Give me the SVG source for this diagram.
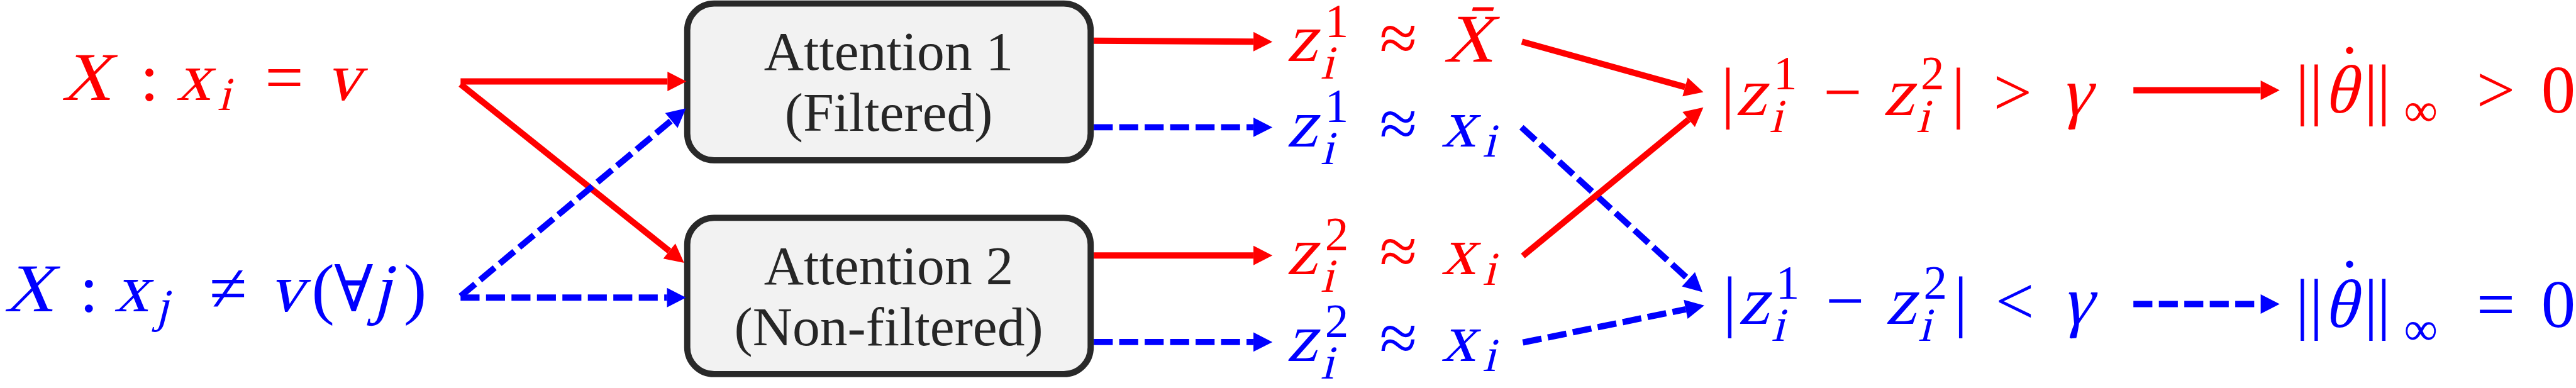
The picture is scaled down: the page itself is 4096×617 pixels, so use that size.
<svg xmlns="http://www.w3.org/2000/svg" width="4096" height="617" viewBox="0 0 4096 617">
<style>
.m{font-family:'Liberation Serif',serif;font-size:148px;text-anchor:middle}
.s{font-size:102px}
.dv{font-family:'DejaVu Serif',serif;font-size:140px}
.r{fill:#ff0000}
.b{fill:#0000ff}
.box{fill:#f2f2f2;stroke:#292929;stroke-width:13.4}
.bt{font-family:'Liberation Serif',serif;font-size:119px;fill:#262626;text-anchor:middle}
.cr{stroke:#ff0000;stroke-width:13.5;fill:none;marker-end:url(#ahR)}
.cb{stroke:#0000ff;stroke-width:13.5;fill:none;stroke-dasharray:41 14;marker-end:url(#ahB)}
</style>
<defs>
<marker id="ahR" markerUnits="userSpaceOnUse" markerWidth="42" markerHeight="42" refX="0" refY="21" orient="auto" overflow="visible"><path d="M0,0 L41,21 L0,42 z" fill="#ff0000"/></marker>
<marker id="ahB" markerUnits="userSpaceOnUse" markerWidth="42" markerHeight="42" refX="0" refY="21" orient="auto" overflow="visible"><path d="M0,0 L41,21 L0,42 z" fill="#0000ff"/></marker>
</defs>
<rect width="4096" height="617" fill="#ffffff"/>
<g transform="scale(0.736)">
<g id="input-red">
<text class="m r" transform="translate(186,216) skewX(-14)">X</text>
<text class="m r"><tspan x="323" y="216">:</tspan><tspan x="614" y="216">=</tspan></text>
<text class="m r" transform="translate(418,216) skewX(-14)">x</text>
<text class="m r s" transform="translate(484,238) skewX(-14)">i</text>
<text class="m r" transform="translate(741,216) skewX(-14)">v</text>
</g>
<g id="input-blue">
<text class="m b" transform="translate(62,673) skewX(-14)">X</text>
<text class="m b"><tspan x="192" y="673">:</tspan><tspan x="493" y="673">≠</tspan><tspan x="698" y="673">(</tspan><tspan class="dv" x="764" y="673">∀</tspan><tspan x="897" y="673">)</tspan></text>
<text class="m b" transform="translate(284,673) skewX(-14)">x</text>
<text class="m b s" transform="translate(350,695) skewX(-14)">j</text>
<text class="m b" transform="translate(618,673) skewX(-14)">v</text>
<text class="m b" transform="translate(825,673) skewX(-14)">j</text>
</g>
<g id="attention1">
<rect class="box" x="1484.7" y="7.7" width="871.6" height="338.6" rx="58" ry="58"/>
<text class="bt" x="1920" y="151">Attention 1</text>
<text class="bt" x="1920" y="283">(Filtered)</text>
</g>
<g id="attention2">
<rect class="box" x="1484.7" y="470.7" width="871.6" height="337.6" rx="58" ry="58"/>
<text class="bt" x="1920" y="614">Attention 2</text>
<text class="bt" x="1920" y="746">(Non-filtered)</text>
</g>
<g id="z1-red">
<text class="m r" transform="translate(2812,132) skewX(-14)">z</text>
<text class="m r"><tspan class="s" x="2888" y="80">1</tspan><tspan x="3021" y="132">≈</tspan></text>
<text class="m r s" transform="translate(2867,170) skewX(-14)">i</text>
<text class="m r" transform="translate(3172,133) skewX(-14)">X̄</text>
</g>
<g id="z1-blue">
<text class="m b" transform="translate(2812,316) skewX(-14)">z</text>
<text class="m b"><tspan class="s" x="2888" y="264">1</tspan><tspan x="3021" y="316">≈</tspan></text>
<text class="m b s" transform="translate(2867,354) skewX(-14)">i</text>
<text class="m b" transform="translate(3151,316) skewX(-14)">x</text>
<text class="m b s" transform="translate(3217,338) skewX(-14)">i</text>
</g>
<g id="z2-red">
<text class="m r" transform="translate(2812,593) skewX(-14)">z</text>
<text class="m r"><tspan class="s" x="2888" y="541">2</tspan><tspan x="3021" y="593">≈</tspan></text>
<text class="m r s" transform="translate(2867,631) skewX(-14)">i</text>
<text class="m r" transform="translate(3151,593) skewX(-14)">x</text>
<text class="m r s" transform="translate(3217,615) skewX(-14)">i</text>
</g>
<g id="z2-blue">
<text class="m b" transform="translate(2812,780) skewX(-14)">z</text>
<text class="m b"><tspan class="s" x="2888" y="728">2</tspan><tspan x="3021" y="780">≈</tspan></text>
<text class="m b s" transform="translate(2867,818) skewX(-14)">i</text>
<text class="m b" transform="translate(3151,780) skewX(-14)">x</text>
<text class="m b s" transform="translate(3217,802) skewX(-14)">i</text>
</g>
<g id="diff-gt">
<text class="m r"><tspan x="3733" y="248">|</tspan><tspan class="s" x="3857" y="193">1</tspan><tspan x="3981" y="248">−</tspan><tspan class="s" x="4175" y="193">2</tspan><tspan x="4231" y="248">|</tspan><tspan x="4348" y="248">&gt;</tspan></text>
<text class="m r" transform="translate(3782,248) skewX(-14)">z</text>
<text class="m r s" transform="translate(3837,285) skewX(-14)">i</text>
<text class="m r" transform="translate(4101,248) skewX(-14)">z</text>
<text class="m r s" transform="translate(4154,285) skewX(-14)">i</text>
<text class="m r" transform="translate(4483,248) skewX(-14)">γ</text>
</g>
<g id="diff-lt">
<text class="m b"><tspan x="3737" y="700">|</tspan><tspan class="s" x="3862" y="645">1</tspan><tspan x="3986" y="700">−</tspan><tspan class="s" x="4181" y="645">2</tspan><tspan x="4236" y="700">|</tspan><tspan x="4353" y="700">&lt;</tspan></text>
<text class="m b" transform="translate(3788,700) skewX(-14)">z</text>
<text class="m b s" transform="translate(3841,737) skewX(-14)">i</text>
<text class="m b" transform="translate(4106,700) skewX(-14)">z</text>
<text class="m b s" transform="translate(4158,737) skewX(-14)">i</text>
<text class="m b" transform="translate(4486,700) skewX(-14)">γ</text>
</g>
<g id="theta-gt">
<text class="m r"><tspan x="4974" y="242">|</tspan><tspan x="5004" y="242">|</tspan><tspan x="5076" y="198">˙</tspan><tspan x="5122" y="242">|</tspan><tspan x="5150" y="242">|</tspan><tspan class="s" x="5230" y="272">∞</tspan><tspan x="5392" y="243">&gt;</tspan><tspan x="5527" y="243">0</tspan></text>
<text class="m r" transform="translate(5055,243) skewX(-14)">θ</text>
</g>
<g id="theta-eq">
<text class="m b"><tspan x="4974" y="705">|</tspan><tspan x="5004" y="705">|</tspan><tspan x="5076" y="661">˙</tspan><tspan x="5122" y="705">|</tspan><tspan x="5150" y="705">|</tspan><tspan class="s" x="5230" y="744">∞</tspan><tspan x="5392" y="706">=</tspan><tspan x="5527" y="706">0</tspan></text>
<text class="m b" transform="translate(5055,706) skewX(-14)">θ</text>
</g>
<g id="connectors">
<line class="cr" x1="995" y1="176" x2="1442" y2="176"/>
<line class="cr" x1="995" y1="182" x2="1446" y2="542.4"/>
<line class="cb" x1="995" y1="640" x2="1450.5" y2="260.3"/>
<line class="cb" x1="995" y1="643" x2="1441" y2="643"/>
<line class="cr" x1="2363" y1="88" x2="2708" y2="90"/>
<line class="cb" x1="2363" y1="275" x2="2708" y2="275"/>
<line class="cr" x1="2363" y1="552" x2="2708" y2="552"/>
<line class="cb" x1="2363" y1="739" x2="2708" y2="739"/>
<line class="cr" x1="3288" y1="90" x2="3640.5" y2="188"/>
<line class="cb" x1="3287" y1="275" x2="3647.7" y2="603.4"/>
<line class="cr" x1="3290" y1="553" x2="3648.3" y2="258.1"/>
<line class="cb" x1="3290" y1="740" x2="3641.8" y2="668.2"/>
<line class="cr" x1="4609" y1="195" x2="4884" y2="195"/>
<line class="cb" x1="4609" y1="657" x2="4884" y2="657"/>
</g>
</g>
</svg>
